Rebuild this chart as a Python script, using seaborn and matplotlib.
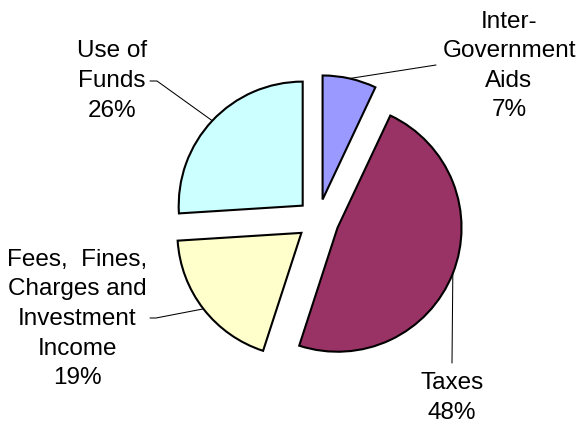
import matplotlib
matplotlib.use("Agg")
import matplotlib.pyplot as plt
import seaborn as sns
import numpy as np

sns.set_theme(style="white")
plt.rcParams['font.family'] = ['Liberation Sans', 'DejaVu Sans']

# data
categories = ["Inter-\nGovernment\nAids", "Taxes",
              "Fees,  Fines,\nCharges and\nInvestment\nIncome", "Use of\nFunds"]
shares = [7, 48, 19, 26]
colors = ["#9999FF", "#993366", "#FFFFCC", "#CCFFFF"]

# layout (pixel coords, y from the top)
W, H = 579, 423
label_pos = [(509, 66), (452, 398), (77, 319), (112, 81)]
leader_start = [[(436, 65)], [(452, 363)], [(150, 318), (156, 318)], [(150, 81), (157, 81)]]

fig = plt.figure(figsize=(W / 100, H / 100), dpi=100)
ax = fig.add_axes([0, 0, 1, 1])

wedges, _ = ax.pie(shares, colors=sns.color_palette(colors), startangle=90,
                   counterclock=False, explode=[21] * len(shares), radius=124,
                   center=(318, H - 220), frame=True,
                   wedgeprops=dict(edgecolor="black", linewidth=1.5))
ax.set_xlim(0, W)
ax.set_ylim(0, H)
ax.axis("off")

for w, cat, val, (lx, ly), pts in zip(wedges, categories, shares, label_pos, leader_start):
    ax.text(lx, H - ly, f"{cat}\n{val}%", ha="center", va="center",
            multialignment="center", fontsize=17.5, linespacing=1.45, color="black")
    ang = np.deg2rad((w.theta1 + w.theta2) / 2)
    px = w.center[0] + w.r * np.cos(ang)
    py = w.center[1] + w.r * np.sin(ang)
    xs = [p[0] for p in pts] + [px]
    ys = [H - p[1] for p in pts] + [py]
    ax.plot(xs, ys, color="black", linewidth=0.75, zorder=0)

fig.savefig("out.png", dpi=100, facecolor="white")
